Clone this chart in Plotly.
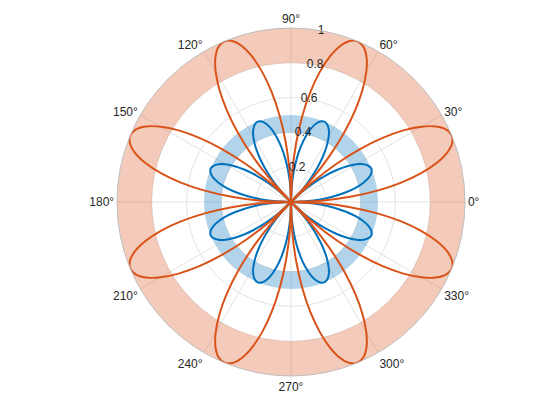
import plotly.graph_objects as go

# angles in degrees, step 2.5
theta = [i * 2.5 for i in range(145)]

rho_orange = (
    [0, 0.174, 0.342, 0.5, 0.643, 0.766, 0.866, 0.940, 0.985, 1.0, 0.985, 0.940, 0.866, 0.766, 0.643, 0.5, 0.342, 0.174]
    + [0, 0.174, 0.342, 0.5, 0.643, 0.766, 0.866, 0.940, 0.985, 1.0, 0.985, 0.940, 0.866, 0.766, 0.643, 0.5, 0.342, 0.174]
    + [0, 0.174, 0.342, 0.5, 0.643, 0.766, 0.866, 0.940, 0.985, 1.0, 0.985, 0.940, 0.866, 0.766, 0.643, 0.5, 0.342, 0.174]
    + [0, 0.174, 0.342, 0.5, 0.643, 0.766, 0.866, 0.940, 0.985, 1.0, 0.985, 0.940, 0.866, 0.766, 0.643, 0.5, 0.342, 0.174]
    + [0, 0.174, 0.342, 0.5, 0.643, 0.766, 0.866, 0.940, 0.985, 1.0, 0.985, 0.940, 0.866, 0.766, 0.643, 0.5, 0.342, 0.174]
    + [0, 0.174, 0.342, 0.5, 0.643, 0.766, 0.866, 0.940, 0.985, 1.0, 0.985, 0.940, 0.866, 0.766, 0.643, 0.5, 0.342, 0.174]
    + [0, 0.174, 0.342, 0.5, 0.643, 0.766, 0.866, 0.940, 0.985, 1.0, 0.985, 0.940, 0.866, 0.766, 0.643, 0.5, 0.342, 0.174]
    + [0, 0.174, 0.342, 0.5, 0.643, 0.766, 0.866, 0.940, 0.985, 1.0, 0.985, 0.940, 0.866, 0.766, 0.643, 0.5, 0.342, 0.174]
    + [0]
)
rho_blue = (
    [0, 0.087, 0.171, 0.25, 0.321, 0.383, 0.433, 0.470, 0.492, 0.5, 0.492, 0.470, 0.433, 0.383, 0.321, 0.25, 0.171, 0.087]
    + [0, 0.087, 0.171, 0.25, 0.321, 0.383, 0.433, 0.470, 0.492, 0.5, 0.492, 0.470, 0.433, 0.383, 0.321, 0.25, 0.171, 0.087]
    + [0, 0.087, 0.171, 0.25, 0.321, 0.383, 0.433, 0.470, 0.492, 0.5, 0.492, 0.470, 0.433, 0.383, 0.321, 0.25, 0.171, 0.087]
    + [0, 0.087, 0.171, 0.25, 0.321, 0.383, 0.433, 0.470, 0.492, 0.5, 0.492, 0.470, 0.433, 0.383, 0.321, 0.25, 0.171, 0.087]
    + [0, 0.087, 0.171, 0.25, 0.321, 0.383, 0.433, 0.470, 0.492, 0.5, 0.492, 0.470, 0.433, 0.383, 0.321, 0.25, 0.171, 0.087]
    + [0, 0.087, 0.171, 0.25, 0.321, 0.383, 0.433, 0.470, 0.492, 0.5, 0.492, 0.470, 0.433, 0.383, 0.321, 0.25, 0.171, 0.087]
    + [0, 0.087, 0.171, 0.25, 0.321, 0.383, 0.433, 0.470, 0.492, 0.5, 0.492, 0.470, 0.433, 0.383, 0.321, 0.25, 0.171, 0.087]
    + [0, 0.087, 0.171, 0.25, 0.321, 0.383, 0.433, 0.470, 0.492, 0.5, 0.492, 0.470, 0.433, 0.383, 0.321, 0.25, 0.171, 0.087]
    + [0]
)

# shaded radial regions: (inner, outer)
blue_region = [0.4, 0.5]
orange_region = [0.8, 1.0]

r_ticks = [0.2, 0.4, 0.6, 0.8, 1.0]
r_labels = ["0.2", "0.4", "0.6", "0.8", "1"]
r_label_angle = 80
a_ticks = [0, 30, 60, 90, 120, 150, 180, 210, 240, 270, 300, 330]
a_labels = ["0°", "30°", "60°", "90°", "120°", "150°", "180°", "210°", "240°", "270°", "300°", "330°"]

BLUE = "#0072BD"
ORANGE = "#D95319"

fig = go.Figure()
for region, col in [(orange_region, "rgba(217,83,25,0.3)"), (blue_region, "rgba(0,114,189,0.3)")]:
    fig.add_trace(go.Barpolar(
        theta=[90, 270], width=[180, 180],
        r=[region[1] - region[0]] * 2, base=[region[0]] * 2,
        marker=dict(color=col, line=dict(width=0)),
        hoverinfo="skip", showlegend=False,
    ))

fig.add_trace(go.Scatterpolar(theta=theta, r=rho_blue, mode="lines",
                              line=dict(color=BLUE, width=2, shape="spline"), showlegend=False))
fig.add_trace(go.Scatterpolar(theta=theta, r=rho_orange, mode="lines",
                              line=dict(color=ORANGE, width=2, shape="spline"), showlegend=False))

# radial tick labels centred on the 80° line (MATLAB style)
fig.add_trace(go.Scatterpolar(theta=[r_label_angle] * len(r_ticks), r=r_ticks, text=r_labels,
                              mode="text", textposition="middle center",
                              textfont=dict(size=12, color="#262626"),
                              hoverinfo="skip", showlegend=False, cliponaxis=False))

fig.update_layout(
    width=560, height=420,
    margin=dict(l=0, r=0, t=0, b=0),
    paper_bgcolor="white",
    font=dict(family="Liberation Sans, Arial, sans-serif", size=12, color="#262626"),
    bargap=0,
    polar=dict(
        domain=dict(x=[109 / 560, 457 / 560], y=[52 / 420, 400 / 420]),
        bgcolor="white",
        radialaxis=dict(
            range=[0, 1], tickvals=r_ticks, showticklabels=False,
            angle=r_label_angle,
            showline=False, ticks="", gridcolor="#E3E3E3", gridwidth=1,
        ),
        angularaxis=dict(
            direction="counterclockwise", rotation=0,
            tickvals=a_ticks, ticktext=a_labels, tickmode="array", ticks="",
            gridcolor="#E3E3E3", gridwidth=1,
            showline=True, linecolor="#BDBDBD", linewidth=1,
            tickfont=dict(size=12, color="#262626"),
        ),
    ),
)

fig.write_html("out.html")
